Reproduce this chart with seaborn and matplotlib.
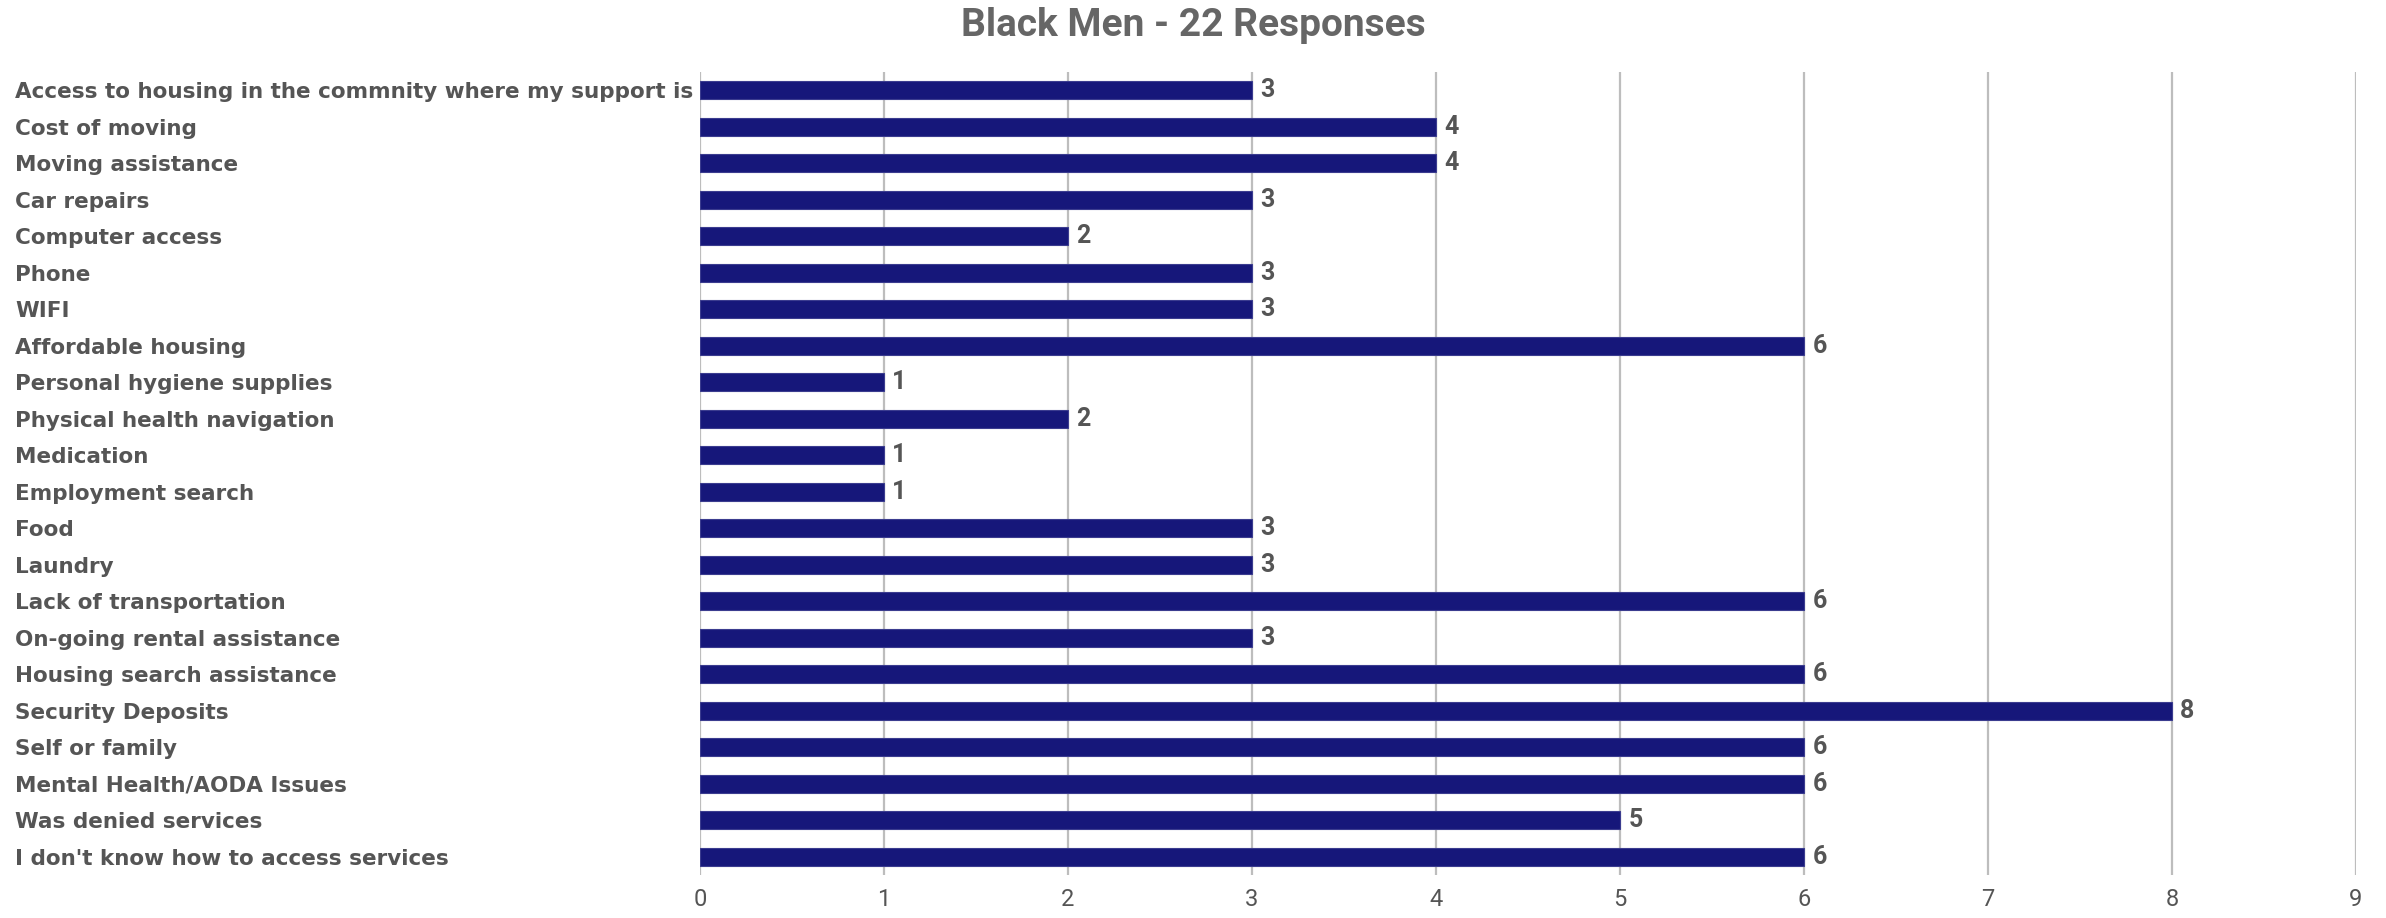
import matplotlib
matplotlib.use("Agg")
import matplotlib.pyplot as plt
import seaborn as sns
import pandas as pd

categories = [
    "Access to housing in the commnity where my support is",
    "Cost of moving",
    "Moving assistance",
    "Car repairs",
    "Computer access",
    "Phone",
    "WIFI",
    "Affordable housing",
    "Personal hygiene supplies",
    "Physical health navigation",
    "Medication",
    "Employment search",
    "Food",
    "Laundry",
    "Lack of transportation",
    "On-going rental assistance",
    "Housing search assistance",
    "Security Deposits",
    "Self or family",
    "Mental Health/AODA Issues",
    "Was denied services",
    "I don't know how to access services",
]
responses = [3, 4, 4, 3, 2, 3, 3, 6, 1, 2, 1, 1, 3, 3, 6, 3, 6, 8, 6, 6, 5, 6]
x_ticks = list(range(0, 10))
title = "Black Men - 22 Responses"

df = pd.DataFrame({"category": categories, "responses": responses})

sns.set_theme(style="white")
plt.rcParams["font.family"] = ["Roboto", "DejaVu Sans"]

BAR = "#16177a"
TEXT = "#555555"

fig = plt.figure(figsize=(23.86, 9.18), dpi=100)
ax = fig.add_axes([700 / 2386, 1 - 875 / 918, (2356 - 700) / 2386, (875 - 72) / 918])

sns.barplot(data=df, x="responses", y="category", orient="h",
            color=BAR, saturation=1, width=0.5, ax=ax, zorder=2,
            edgecolor="#3b3c8f", linewidth=0.8)

ax.set_xlim(0, 9)
ax.set_xticks(x_ticks)
ax.set_xticklabels([str(t) for t in x_ticks], fontsize=17, color=TEXT)
ax.grid(axis="x", color="#bdbdbd", linewidth=1.6, zorder=0)
ax.grid(axis="y", visible=False)
ax.set_axisbelow(True)
for s in ax.spines.values():
    s.set_visible(False)
ax.set_xlabel("")
ax.set_ylabel("")
ax.tick_params(axis="x", length=0, pad=9)
ax.tick_params(axis="y", length=0, pad=(700 - 15) * 0.72)
for lab in ax.get_yticklabels():
    lab.set_ha("left")
    lab.set_family("DejaVu Sans")
    lab.set_fontweight("bold")
    lab.set_fontsize(15.5)
    lab.set_color(TEXT)

for cont in ax.containers:
    ax.bar_label(cont, labels=[str(v) for v in responses], padding=6,
                 fontweight="bold", fontsize=18, color=TEXT)

fig.text(0.5, 1 - 25 / 918, title, ha="center", va="center",
         fontweight="bold", fontsize=28, color="#666666")

fig.savefig("out.png", dpi=100)
